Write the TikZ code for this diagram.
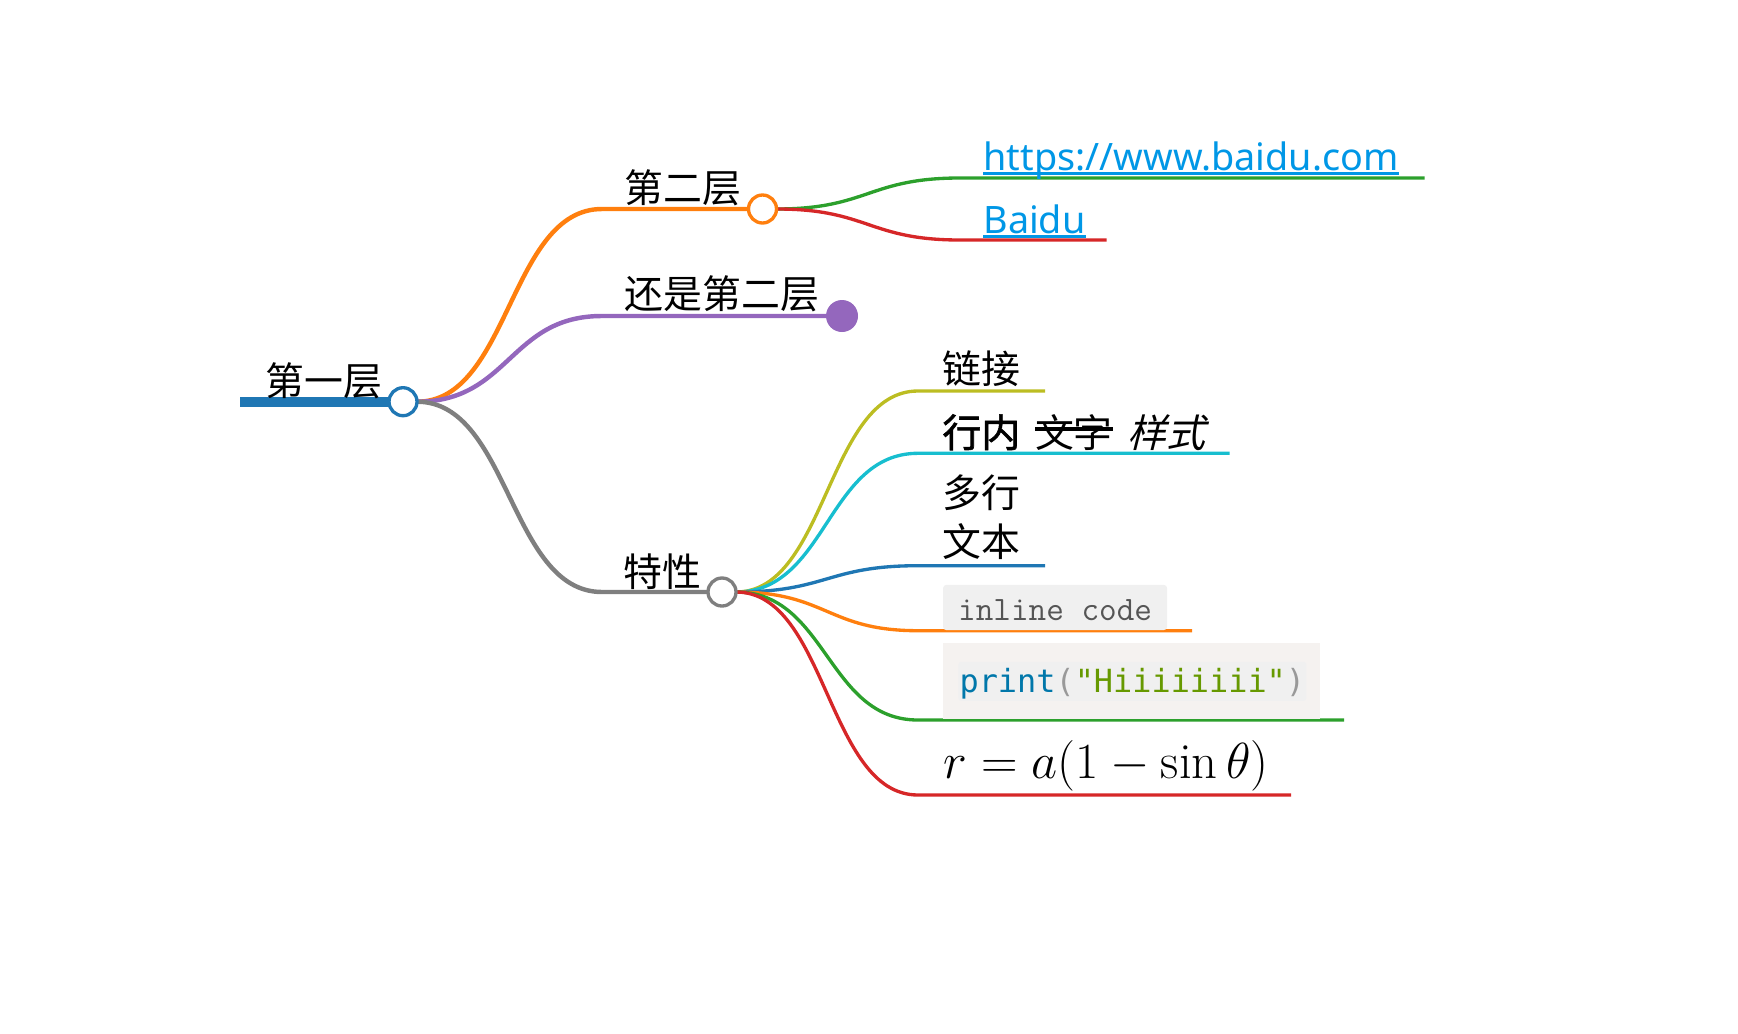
\RequirePackage{fix-cm}
\documentclass[tikz,border=0pt]{standalone}
\usepackage{fontspec}
\newfontfamily\cjk[BoldFont=Noto Sans CJK SC,BoldFeatures={FakeBold=1.5},ItalicFont=Noto Sans CJK SC,ItalicFeatures={FakeSlant=0.25}]{Noto Sans CJK SC}
\newfontfamily\linkfont{Noto Sans}
\newfontfamily\codefont{DejaVu Sans Mono}
\usetikzlibrary{backgrounds}
\definecolor{cBlue}{HTML}{1F77B4}
\definecolor{cOrange}{HTML}{FF7F0E}
\definecolor{cGreen}{HTML}{2CA02C}
\definecolor{cRed}{HTML}{D62728}
\definecolor{cPurple}{HTML}{9467BD}
\definecolor{cGray}{HTML}{7F7F7F}
\definecolor{cOlive}{HTML}{BCBD22}
\definecolor{cCyan}{HTML}{17BECF}
\definecolor{cLink}{HTML}{0097E6}
\definecolor{icBg}{HTML}{F0F0F0}
\definecolor{icText}{HTML}{555555}
\definecolor{preBg}{HTML}{F5F2F0}
\definecolor{kwCol}{HTML}{0077AA}
\definecolor{strCol}{HTML}{669900}
\definecolor{punCol}{HTML}{999999}
\newcommand\strk[1]{\setbox0\hbox{#1}\rlap{\rule[0.42em]{\wd0}{0.085em}}\box0\relax}
\newcommand\wgap{\hspace{0.38em}}
\begin{document}
\begin{tikzpicture}[x=0.45pt,y=-0.45pt,
  cjktext/.style={font=\cjk\fontsize{17.5pt}{22.2pt}\selectfont, inner sep=0, anchor=base west},
  linktext/.style={font=\linkfont\fontsize{17pt}{21pt}\selectfont, text=cLink, inner sep=0, anchor=base west},
  ring/.style={circle, draw=#1, fill=white, line width=1.5pt, minimum size=12.6pt, inner sep=0, outer sep=0},
  lvA/.style={draw=#1, line width=2pt},
  lvB/.style={draw=#1, line width=1.5pt},
  rootline/.style={draw=cBlue, line width=4.5pt}
]
\useasboundingbox (0,0) rectangle (1738,1033);

% circles
\node[ring=cBlue] (c0) at (403,401.7) {};
\node[ring=cOrange] (c1) at (762.5,209) {};
\node[circle, fill=cPurple, minimum size=14.4pt, inner sep=0, outer sep=0] (c2) at (842,316) {};
\node[ring=cGray] (c3) at (722,592) {};

% coordinates
\coordinate (r0) at (240,401.7);
\coordinate (b1) at (602,209);
\coordinate (b2) at (602,316);
\coordinate (b3) at (602,592);
\coordinate (g1s) at (960,178);   \coordinate (g1e) at (1424.5,178);
\coordinate (g2s) at (960,240);   \coordinate (g2e) at (1106.6,240);
\coordinate (f1s) at (918,391);   \coordinate (f1e) at (1045,391);
\coordinate (f2s) at (918,453.3); \coordinate (f2e) at (1229.5,453.3);
\coordinate (f3s) at (918,565.7); \coordinate (f3e) at (1045,565.7);
\coordinate (f4s) at (918,630.7); \coordinate (f4e) at (1192,630.7);
\coordinate (f5s) at (918,720);   \coordinate (f5e) at (1344,720);
\coordinate (f6s) at (918,795);   \coordinate (f6e) at (1291,795);

% code boxes
\node[fill=preBg, minimum width=169.65pt, minimum height=34.2pt, inner sep=0, anchor=north west] (pre) at (942.7,643) {};
\node[fill=icBg, rounded corners=1.2pt, inner xsep=0.5pt, inner ysep=0, text height=13.6pt, text depth=4pt, anchor=base west,
  font=\codefont\fontsize{14.35pt}{17pt}\selectfont] (code) at (958,692)
  {\textcolor{kwCol}{print}\textcolor{punCol}{(}\textcolor{strCol}{"Hiiiiiiii"}\textcolor{punCol}{)}};
\node[fill=icBg, rounded corners=1.35pt, inner xsep=6.75pt, inner ysep=0, text height=16.1pt, text depth=4.2pt, anchor=base west,
  text=icText, font=\ttfamily\fontsize{15.4pt}{18pt}\selectfont] (ic) at (942.7,620.7) {inline code};

% texts
\node[cjktext] (t0) at (265,395) {第一层};
\node[cjktext] (t1) at (624,202) {第二层};
\node[cjktext] (t2) at (624,308.7) {还是第二层};
\node[cjktext] (t3) at (623,586) {特性};
\node[cjktext] (t4) at (942,383.7) {链接};
\node[cjktext] (t5) at (942,447) {\textbf{行内}\wgap\strk{文字}\wgap\textit{样式}};
\node[cjktext, anchor=south west, align=left] (t6) at (942,560) {多行\\文本};
\node[linktext] (t7) at (983,170) {https://www.baidu.com};
\node[linktext] (t8) at (983,233) {Baidu};
\node[inner sep=0, anchor=base west, font=\fontsize{22.8pt}{27pt}\selectfont] (t9) at (943,778) {$r = a(1-\sin\theta)$};

\begin{pgfonlayer}{background}
\path[rootline] (r0) -- (c0.center);
\path[lvA=cOrange] (c0.east) .. controls (509.5,401.7) and (509.5,209) .. (b1) -- (c1.center);
\path[lvA=cPurple] (c0.east) .. controls (509.5,401.7) and (509.5,316) .. (b2) -- (c2.center);
\path[lvA=cGray] (c0.east) .. controls (509.5,401.7) and (509.5,592) .. (b3) -- (c3.center);
\path[lvB=cGreen] (c1.east) .. controls (868.25,209) and (868.25,178) .. (g1s) -- (g1e);
\path[lvB=cRed] (c1.east) .. controls (868.25,209) and (868.25,240) .. (g2s) -- (g2e);
\path[lvB=cOlive] (c3.east) .. controls (827,592) and (827,391) .. (f1s) -- (f1e);
\path[lvB=cCyan] (c3.east) .. controls (827,592) and (827,453.3) .. (f2s) -- (f2e);
\path[lvB=cBlue] (c3.east) .. controls (827,592) and (827,565.7) .. (f3s) -- (f3e);
\path[lvB=cOrange] (c3.east) .. controls (827,592) and (827,630.7) .. (f4s) -- (f4e);
\path[lvB=cGreen] (c3.east) .. controls (827,592) and (827,720) .. (f5s) -- (f5e);
\path[lvB=cRed] (c3.east) .. controls (827,592) and (827,795) .. (f6s) -- (f6e);
\end{pgfonlayer}

% link underlines
\draw[cLink, line width=1.5pt] ([yshift=-1.5pt]t7.base west) -- ([yshift=-1.5pt]t7.base east);
\draw[cLink, line width=1.5pt] ([yshift=-1.5pt]t8.base west) -- ([yshift=-1.5pt]t8.base east);
\end{tikzpicture}
\end{document}
